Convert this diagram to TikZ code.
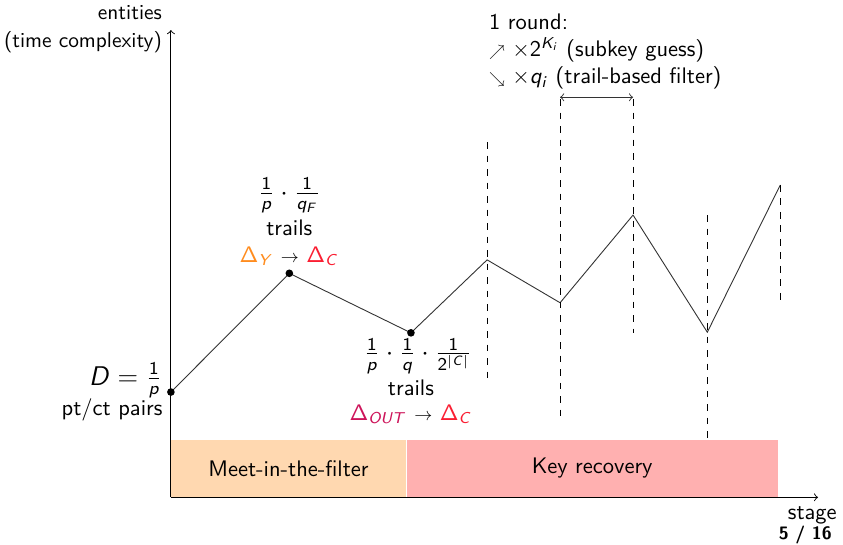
\documentclass[tikz,border=0pt]{standalone}
\usepackage[cm]{sfmath}
\usepackage{graphicx}
\usetikzlibrary{positioning}
\definecolor{mitfpeach}{RGB}{255,216,176}
\definecolor{krpink}{RGB}{255,176,176}
\definecolor{deltaorange}{RGB}{255,140,30}
\definecolor{deltared}{RGB}{250,30,50}
\definecolor{deltacrimson}{RGB}{205,20,90}
\renewcommand{\familydefault}{\sfdefault}
\newcommand{\smallto}{\scalebox{0.8}{$\rightarrow$}}
\begin{document}
\begin{tikzpicture}[
    font=\sffamily,
    axis/.style={->, >=to, thin},
    guide/.style={dashed, thin},
    curve/.style={thin, black!80},
    dot/.style={circle, fill, inner sep=1.2pt},
    phase/.style={minimum height=0.89cm, inner sep=0pt},
    lbl/.style={inner sep=1pt}
]
    \useasboundingbox (0,0) rectangle (13.17,8.5);

    % Phases
    \node[phase, fill=mitfpeach, minimum width=3.66cm, anchor=south west] (mitf) at (2.67,0.73) {Meet-in-the-filter};
    \node[phase, fill=krpink, minimum width=5.80cm, right=0pt of mitf] (kr) {Key recovery};

    % Axes
    \coordinate (o) at (2.67,0.73);
    \coordinate (ytop) at (2.67,8.03);
    \coordinate (xend) at (12.78,0.73);
    \draw[axis] (o) -- (ytop);
    \draw[axis] (o) -- (xend);
    \node[lbl, anchor=south east, align=right, font=\sffamily\fontsize{9.5}{12.5}\selectfont] (ylab) at (2.57,7.63) {entities\\(time complexity)};
    \node[lbl, anchor=north] (xlab) at (12.69,0.62) {stage};
    \node[lbl, anchor=north, font=\sffamily\bfseries\footnotesize] (page) at (12.58,0.33) {5 / 16};

    % Points of the curve
    \coordinate (s0) at (2.67,2.375);
    \coordinate (s1) at (4.52,4.23);
    \coordinate (s2) at (6.42,3.30);
    \coordinate (s3) at (7.61,4.44);
    \coordinate (s4) at (8.75,3.77);
    \coordinate (s5) at (9.89,5.14);
    \coordinate (s6) at (11.05,3.31);
    \coordinate (s7) at (12.19,5.61);
    \draw[curve] (s0) -- (s1) -- (s2) -- (s3) -- (s4) -- (s5) -- (s6) -- (s7);
    \foreach \p in {s0,s1,s2} {
        \node[dot] at (\p) {};
    }

    % Rounds
    \coordinate (r3t) at (7.61,6.28);  \coordinate (r3b) at (7.61,2.59);
    \coordinate (r4t) at (8.75,6.95);  \coordinate (r4b) at (8.75,1.91);
    \coordinate (r5t) at (9.89,6.95);  \coordinate (r5b) at (9.89,3.30);
    \coordinate (r6t) at (11.05,5.14); \coordinate (r6b) at (11.05,1.625);
    \coordinate (r7t) at (12.19,5.61); \coordinate (r7b) at (12.19,3.77);
    \foreach \r in {3,...,7} {
        \draw[guide] (r\r t) -- (r\r b);
    }
    \coordinate (ra) at (8.75,6.98);
    \coordinate (rb) at (9.89,6.98);
    \draw[<->, >=to, thin, black!80] (ra) -- (rb);
    \node[lbl, anchor=south west, align=left] (round) at (7.60,7.06)
        {1 round:\\\scalebox{0.7}{$\nearrow$} $\times 2^{K_i}$ (subkey guess)\\\scalebox{0.7}{$\searrow$} $\times q_i$ (trail-based filter)};

    % Labels
    \node[lbl, anchor=east] (data) at (2.57,2.56) {\large $D = \frac{1}{p}$};
    \node[lbl, anchor=east] (pairs) at (2.58,2.09) {pt/ct pairs};

    \node[lbl] (fracF) at (4.52,5.45) {\large $\frac{1}{p} \cdot \frac{1}{q_F}$};
    \node[lbl] (trailsF) at (4.52,4.94) {trails};
    \node[lbl] (deltaF) at (4.52,4.50) {\textcolor{deltaorange}{$\Delta_Y$} \smallto{} \textcolor{deltared}{$\Delta_C$}};

    \node[lbl] (fracB) at (6.53,2.94) {\large $\frac{1}{p} \cdot \frac{1}{q} \cdot \frac{1}{2^{|C|}}$};
    \node[lbl] (trailsB) at (6.42,2.44) {trails};
    \node[lbl] (deltaB) at (6.42,2.03) {\textcolor{deltacrimson}{$\Delta_{OUT}$} \smallto{} \textcolor{deltared}{$\Delta_C$}};
\end{tikzpicture}
\end{document}
